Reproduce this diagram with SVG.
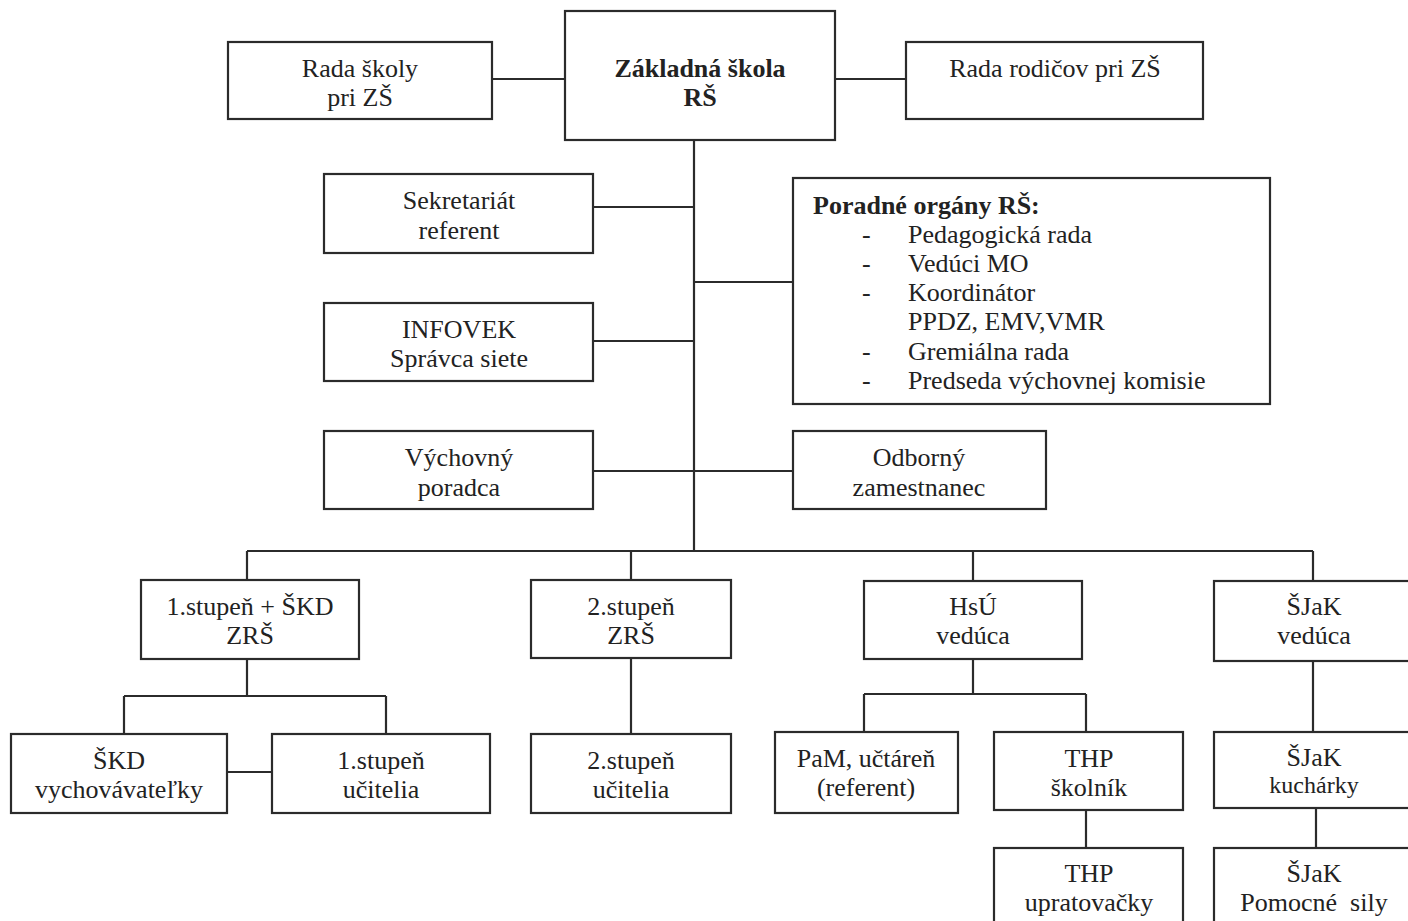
<svg xmlns="http://www.w3.org/2000/svg" width="1408" height="921" viewBox="0 0 1408 921">
<style>
.box{fill:#fff;stroke:#2b2b2b;stroke-width:2.2}
.ln{fill:none;stroke:#2b2b2b;stroke-width:2.2}
text{font-family:"Liberation Serif","Times New Roman",serif;font-size:26px;fill:#222}
.c{text-anchor:middle}
.b{font-weight:bold}
</style>
<rect width="1408" height="921" fill="#fff"/>
<g id="connectors">
<path class="ln" d="M492 79H565M835 79H906"/>
<path class="ln" d="M694 140V551"/>
<path class="ln" d="M593 207H694M694 282H793M593 341H694M593 471H793"/>
<path class="ln" d="M247 551H1313M247 551V580M631 551V580M973 551V581M1313 551V581"/>
<path class="ln" d="M247 659V696M124 696H386M124 696V734M386 696V734M227 772H272"/>
<path class="ln" d="M631 658V734"/>
<path class="ln" d="M973 659V694M864 694H1086M864 694V732M1086 694V732M1086 810V848"/>
<path class="ln" d="M1313 661V732M1316 808V848"/>
</g>
<g id="n-rada-skoly"><rect class="box" x="228" y="42" width="264" height="77"/><text class="c" x="360" y="77">Rada školy</text><text class="c" x="360" y="106">pri ZŠ</text></g>
<g id="n-zakladna"><rect class="box" x="565" y="11" width="270" height="129"/><text class="c b" x="700" y="77">Základná škola</text><text class="c b" x="700" y="106">RŠ</text></g>
<g id="n-rada-rodicov"><rect class="box" x="906" y="42" width="297" height="77"/><text class="c" x="1055" y="77">Rada rodičov pri ZŠ</text></g>
<g id="n-sekretariat"><rect class="box" x="324" y="174" width="269" height="79"/><text class="c" x="459" y="209">Sekretariát</text><text class="c" x="459" y="239">referent</text></g>
<g id="n-infovek"><rect class="box" x="324" y="303" width="269" height="78"/><text class="c" x="459" y="338">INFOVEK</text><text class="c" x="459" y="367">Správca siete</text></g>
<g id="n-vychovny"><rect class="box" x="324" y="431" width="269" height="78"/><text class="c" x="459" y="466">Výchovný</text><text class="c" x="459" y="496">poradca</text></g>
<g id="n-poradne"><rect class="box" x="793" y="178" width="477" height="226"/>
<text class="b" x="813" y="214">Poradné orgány RŠ:</text>
<text x="862" y="243">-</text><text x="908" y="243">Pedagogická rada</text>
<text x="862" y="272">-</text><text x="908" y="272">Vedúci MO</text>
<text x="862" y="301">-</text><text x="908" y="301">Koordinátor</text>
<text x="908" y="330">PPDZ, EMV,VMR</text>
<text x="862" y="360">-</text><text x="908" y="360">Gremiálna rada</text>
<text x="862" y="389">-</text><text x="908" y="389">Predseda výchovnej komisie</text>
</g>
<g id="n-odborny"><rect class="box" x="793" y="431" width="253" height="78"/><text class="c" x="919" y="466">Odborný</text><text class="c" x="919" y="496">zamestnanec</text></g>
<g id="n-stupen1"><rect class="box" x="141" y="580" width="218" height="79"/><text class="c" x="250" y="615">1.stupeň + ŠKD</text><text class="c" x="250" y="644">ZRŠ</text></g>
<g id="n-stupen2"><rect class="box" x="531" y="580" width="200" height="78"/><text class="c" x="631" y="615">2.stupeň</text><text class="c" x="631" y="644">ZRŠ</text></g>
<g id="n-hsu"><rect class="box" x="864" y="581" width="218" height="78"/><text class="c" x="973" y="615">HsÚ</text><text class="c" x="973" y="644">vedúca</text></g>
<g id="n-sjak"><rect class="box" x="1214" y="581" width="200" height="80"/><text class="c" x="1314" y="615">ŠJaK</text><text class="c" x="1314" y="644">vedúca</text></g>
<g id="n-skd"><rect class="box" x="11" y="734" width="216" height="79"/><text class="c" x="119" y="769">ŠKD</text><text class="c" x="119" y="798">vychovávateľky</text></g>
<g id="n-ucitelia1"><rect class="box" x="272" y="734" width="218" height="79"/><text class="c" x="381" y="769">1.stupeň</text><text class="c" x="381" y="798">učitelia</text></g>
<g id="n-ucitelia2"><rect class="box" x="531" y="734" width="200" height="79"/><text class="c" x="631" y="769">2.stupeň</text><text class="c" x="631" y="798">učitelia</text></g>
<g id="n-pam"><rect class="box" x="775" y="732" width="183" height="81"/><text class="c" x="866" y="767">PaM, učtáreň</text><text class="c" x="866" y="796">(referent)</text></g>
<g id="n-skolnik"><rect class="box" x="994" y="732" width="189" height="78"/><text class="c" x="1089" y="767">THP</text><text class="c" x="1089" y="796">školník</text></g>
<g id="n-kucharky"><rect class="box" x="1214" y="732" width="200" height="76"/><text class="c" x="1314" y="766">ŠJaK</text><text class="c" x="1314" y="793" style="font-size:24px">kuchárky</text></g>
<g id="n-upratovacky"><rect class="box" x="994" y="848" width="189" height="90"/><text class="c" x="1089" y="882">THP</text><text class="c" x="1089" y="911">upratovačky</text></g>
<g id="n-pomocne"><rect class="box" x="1214" y="848" width="200" height="90"/><text class="c" x="1314" y="882">ŠJaK</text><text class="c" x="1314" y="911" xml:space="preserve">Pomocné  sily</text></g>
</svg>
